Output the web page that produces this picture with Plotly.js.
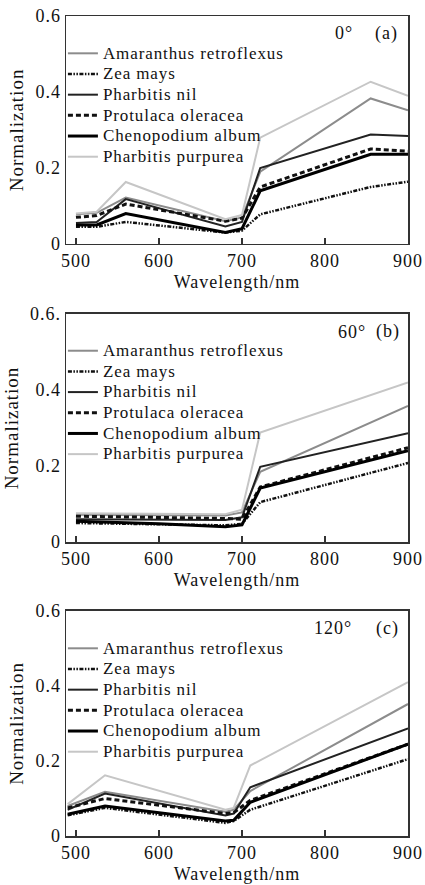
<!DOCTYPE html>
<html>
<head>
<meta charset="utf-8">
<script src="https://cdn.plot.ly/plotly-3.0.1.min.js"></script>
<style>
  html, body { margin: 0; padding: 0; background: #fff; }
  #chart { width: 425px; height: 885px; }
  svg text { letter-spacing: 1px; }
</style>
</head>
<body>
<div id="chart"></div>
<script>
// ---------- data ----------
const species = ["Amaranthus retroflexus", "Zea mays", "Pharbitis nil",
                 "Protulaca oleracea", "Chenopodium album", "Pharbitis purpurea"];

// panel (a) 0°
const wlA   = [500, 525, 560, 680, 700, 722, 855, 900];
const amarA = [0.078, 0.082, 0.122, 0.060, 0.070, 0.190, 0.383, 0.352];
const zeaA  = [0.045, 0.045, 0.058, 0.030, 0.035, 0.078, 0.150, 0.164];
const nilA  = [0.055, 0.058, 0.118, 0.046, 0.058, 0.200, 0.288, 0.284];
const protA = [0.070, 0.075, 0.105, 0.060, 0.068, 0.150, 0.250, 0.244];
const chenA = [0.050, 0.050, 0.080, 0.030, 0.040, 0.140, 0.236, 0.236];
const purpA = [0.080, 0.085, 0.163, 0.065, 0.076, 0.280, 0.427, 0.390];

// panel (b) 60°
const wlB   = [500, 600, 680, 700, 722, 900];
const amarB = [0.072, 0.071, 0.070, 0.078, 0.185, 0.358];
const zeaB  = [0.050, 0.047, 0.044, 0.048, 0.105, 0.208];
const nilB  = [0.060, 0.059, 0.058, 0.065, 0.198, 0.286];
const protB = [0.068, 0.065, 0.062, 0.060, 0.145, 0.248];
const chenB = [0.055, 0.048, 0.040, 0.045, 0.142, 0.240];
const purpB = [0.076, 0.075, 0.073, 0.085, 0.288, 0.420];

// panel (c) 120°
const wlC   = [490, 535, 680, 690, 710, 900];
const amarC = [0.080, 0.118, 0.065, 0.070, 0.120, 0.352];
const zeaC  = [0.055, 0.075, 0.035, 0.040, 0.070, 0.205];
const nilC  = [0.070, 0.113, 0.055, 0.060, 0.130, 0.287];
const protC = [0.075, 0.100, 0.060, 0.062, 0.095, 0.245];
const chenC = [0.058, 0.080, 0.040, 0.042, 0.090, 0.245];
const purpC = [0.085, 0.162, 0.070, 0.075, 0.188, 0.410];

const xTicks  = [500, 600, 700, 800, 900];
const yTicks  = [0, 0.2, 0.4, 0.6];
const yLabA   = ["0", "0.2", "0.4", "0.6"];
const yLabB   = ["0", "0.2", "0.4", "0.6."];
const yLabC   = ["0", "0.2", "0.4", "0.6"];
const angleLabels = ["0°", "60°", "120°"];
const panelLabels = ["(a)", "(b)", "(c)"];

// ---------- styles ----------
const styles = [
  {color: "#8c8c8c", width: 2,   dash: "solid"},
  {color: "#111111", width: 2.5, dash: "4px,1.5px,1.5px,1.5px,1.5px,1.5px"},
  {color: "#222222", width: 2,   dash: "solid"},
  {color: "#111111", width: 3,   dash: "5px,3px"},
  {color: "#000000", width: 3,   dash: "solid"},
  {color: "#c6c6c6", width: 2,   dash: "solid"}
];

const panels = [
  {wl: wlA, ys: [amarA, zeaA, nilA, protA, chenA, purpA], xa: "x",  ya: "y",  lg: "legend"},
  {wl: wlB, ys: [amarB, zeaB, nilB, protB, chenB, purpB], xa: "x2", ya: "y2", lg: "legend2"},
  {wl: wlC, ys: [amarC, zeaC, nilC, protC, chenC, purpC], xa: "x3", ya: "y3", lg: "legend3"}
];

const traces = [];
panels.forEach(p => {
  p.ys.forEach((vals, i) => {
    traces.push({
      type: "scatter", mode: "lines",
      x: p.wl, y: vals, name: species[i],
      xaxis: p.xa, yaxis: p.ya, legend: p.lg,
      line: {color: styles[i].color, width: styles[i].width, dash: styles[i].dash},
      hoverinfo: "skip"
    });
  });
});

const FONT = "Liberation Serif, Times New Roman, serif";
const txt = "#111";
const LEG_FS = 13.6;   // sets legend row spacing
const LEG_SHOW = "17px"; // displayed legend text size

function xAxis(anchor) {
  return {
    anchor: anchor, range: [488, 900], tickvals: xTicks,
    ticks: "inside", ticklen: 6, tickwidth: 1.2, tickcolor: "#333",
    ticklabelstandoff: 0,
    showline: true, mirror: true, linecolor: "#333", linewidth: 1.5,
    showgrid: false, zeroline: false,
    tickfont: {family: FONT, size: 18, color: txt},
    title: {text: "Wavelength/nm", font: {family: FONT, size: 18, color: txt}, standoff: 5}
  };
}
function yAxis(anchor, dom, labs) {
  return {
    anchor: anchor, domain: dom, range: [0, 0.6], tickvals: yTicks, ticktext: labs,
    ticks: "", showline: true, mirror: true, linecolor: "#333", linewidth: 1.5,
    showgrid: false, zeroline: false,
    tickfont: {family: FONT, size: 18, color: txt},
    title: {text: "Normalization", font: {family: FONT, size: 19, color: txt}, standoff: 6}
  };
}
function legendAt(y) {
  return {
    x: -0.009, y: y, xanchor: "left", yanchor: "top",
    bgcolor: "rgba(0,0,0,0)", borderwidth: 0,
    font: {family: FONT, size: LEG_FS, color: txt},
    tracegroupgap: 0
  };
}

const annotations = [];
const angX = [0.813, 0.836, 0.781];
const angY = [0.979, 0.615, 0.2533];
const labX = [0.938, 0.9415, 0.9415];
for (let k = 0; k < 3; k++) {
  annotations.push({xref: "paper", yref: "paper", x: angX[k], y: angY[k], text: angleLabels[k],
    showarrow: false, xanchor: "center", yanchor: "middle", font: {family: FONT, size: 18, color: txt}});
  annotations.push({xref: "paper", yref: "paper", x: labX[k], y: angY[k], text: panelLabels[k],
    showarrow: false, xanchor: "center", yanchor: "middle", font: {family: FONT, size: 18, color: txt}});
}

const layout = {
  width: 425, height: 885,
  margin: {l: 66, r: 17, t: 16, b: 49},
  paper_bgcolor: "#fff", plot_bgcolor: "#fff",
  showlegend: true,
  xaxis: xAxis("y"), xaxis2: xAxis("y2"), xaxis3: xAxis("y3"),
  yaxis:  yAxis("x",  [0.7220, 1.0], yLabA),
  yaxis2: yAxis("x2", [0.3585, 0.6366], yLabB),
  yaxis3: yAxis("x3", [0.0, 0.2744], yLabC),
  legend: legendAt(0.9732), legend2: legendAt(0.6105), legend3: legendAt(0.2476),
  annotations: annotations
};

function enlargeLegendText(gd) {
  gd.querySelectorAll(".infolayer text").forEach(t => {
    if (t.style.fontSize === LEG_FS + "px") {
      t.style.setProperty("font-size", LEG_SHOW, "important");
      t.style.setProperty("letter-spacing", "0.9px");
    }
  });
  gd.querySelectorAll(".infolayer [clip-path]").forEach(n => n.removeAttribute("clip-path"));
}

Plotly.newPlot("chart", traces, layout, {displayModeBar: false, staticPlot: true})
  .then(gd => enlargeLegendText(gd));
</script>
</body>
</html>
